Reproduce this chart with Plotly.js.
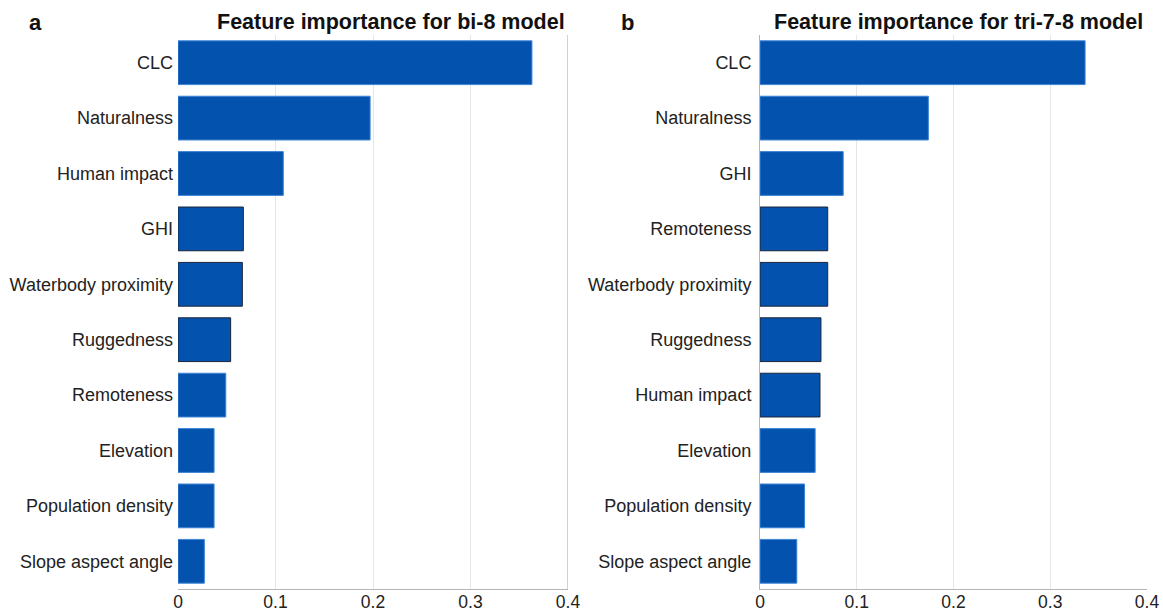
<!DOCTYPE html>
<html>
<head>
<meta charset="utf-8">
<script src="https://cdn.plot.ly/plotly-3.0.1.min.js"></script>
<style>
  html, body { margin: 0; padding: 0; background: #fff; }
  #chart { width: 1163px; height: 613px; }
</style>
</head>
<body>
<div id="chart"></div>
<script>
// Panel a: bi-8 model
const featuresA = ["CLC", "Naturalness", "Human impact", "GHI", "Waterbody proximity",
                   "Ruggedness", "Remoteness", "Elevation", "Population density", "Slope aspect angle"];
const importanceA = [0.363, 0.197, 0.108, 0.067, 0.066, 0.054, 0.049, 0.037, 0.037, 0.027];
const darkEdgeA = [false, false, false, true, true, true, false, false, false, false];

// Panel b: tri-7-8 model
const featuresB = ["CLC", "Naturalness", "GHI", "Remoteness", "Waterbody proximity",
                   "Ruggedness", "Human impact", "Elevation", "Population density", "Slope aspect angle"];
const importanceB = [0.336, 0.174, 0.086, 0.070, 0.070, 0.063, 0.062, 0.057, 0.046, 0.038];
const darkEdgeB = [false, false, false, true, true, true, true, false, false, false];

const xTicks = [0, 0.1, 0.2, 0.3, 0.4];
const xTickText = ["0", "0.1", "0.2", "0.3", "0.4"];

const BAR = "#0352ae";
const EDGE_LIGHT = "#3d84d6";
const EDGE_DARK = "#1b2536";
const FONT = "Liberation Sans, Arial, sans-serif";

function barTrace(cats, vals, dark, xa, ya) {
  return {
    type: "bar",
    orientation: "h",
    y: cats,
    x: vals,
    xaxis: xa,
    yaxis: ya,
    width: 0.79,
    marker: {
      color: BAR,
      line: { color: dark.map(d => d ? EDGE_DARK : EDGE_LIGHT), width: 1 }
    },
    hoverinfo: "x+y"
  };
}

const W = 1163, H = 613;
const px = v => v / W;
const py = v => 1 - v / H;

function xAxis(domain, anchor) {
  return {
    domain: domain,
    anchor: anchor,
    range: [0, 0.4],
    tickvals: xTicks,
    ticktext: xTickText,
    showgrid: true,
    gridcolor: "#e6e6e6",
    gridwidth: 1,
    zeroline: false,
    showline: true,
    linecolor: "#b5b5b5",
    linewidth: 1,
    ticks: "",
    ticklen: 0,
    ticklabelstandoff: -3,
    tickfont: { family: FONT, size: 17.5, color: "#222" },
    fixedrange: true
  };
}

function yAxis(cats, anchor, showLine) {
  return {
    domain: [py(589), py(35)],
    anchor: anchor,
    type: "category",
    categoryorder: "array",
    categoryarray: cats.slice().reverse(),
    showgrid: false,
    zeroline: false,
    showline: showLine,
    linecolor: "#b5b5b5",
    linewidth: 1,
    ticks: "",
    ticklabelstandoff: 4,
    tickfont: { family: FONT, size: 18, color: "#222" },
    fixedrange: true
  };
}

const data = [
  barTrace(featuresA, importanceA, darkEdgeA, "x", "y"),
  barTrace(featuresB, importanceB, darkEdgeB, "x2", "y2")
];

const layout = {
  width: W,
  height: H,
  margin: { l: 0, r: 0, t: 0, b: 0 },
  paper_bgcolor: "#fff",
  plot_bgcolor: "#fff",
  showlegend: false,
  bargap: 0.2,
  xaxis: xAxis([px(178), px(568)], "y"),
  yaxis: yAxis(featuresA, "x", false),
  xaxis2: xAxis([px(760), px(1147)], "y2"),
  yaxis2: yAxis(featuresB, "x2", true),
  shapes: [
    // right-hand frame line of panel a
    { type: "line", xref: "x", yref: "y domain", x0: 0.4, x1: 0.4, y0: 0, y1: 1,
      line: { color: "#b5b5b5", width: 1.2 } }
  ],
  annotations: [
    { text: "<b>a</b>", xref: "paper", yref: "paper", x: px(27), y: py(22),
      xanchor: "left", yanchor: "middle", showarrow: false,
      font: { family: FONT, size: 22, color: "#111" } },
    { text: "<b>b</b>", xref: "paper", yref: "paper", x: px(619), y: py(22),
      xanchor: "left", yanchor: "middle", showarrow: false,
      font: { family: FONT, size: 22, color: "#111" } },
    { text: "<b>Feature importance for bi-8 model</b>", xref: "paper", yref: "paper",
      x: px(391), y: py(22), xanchor: "center", yanchor: "middle", showarrow: false,
      font: { family: FONT, size: 21.5, color: "#111" } },
    { text: "<b>Feature importance for tri-7-8 model</b>", xref: "paper", yref: "paper",
      x: px(958), y: py(22), xanchor: "center", yanchor: "middle", showarrow: false,
      font: { family: FONT, size: 21.5, color: "#111" } }
  ]
};

Plotly.newPlot("chart", data, layout, { displayModeBar: false, staticPlot: true });
</script>
</body>
</html>
